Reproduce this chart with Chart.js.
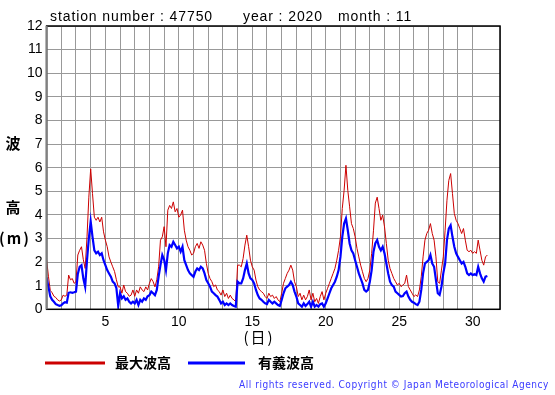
<!DOCTYPE html>
<html>
<head>
<meta charset="utf-8">
<script src="https://cdn.jsdelivr.net/npm/chart.js@4.4.1/dist/chart.umd.min.js"></script>
<style>
html, body { margin: 0; padding: 0; background: #fff; }
</style>
</head>
<body>
<canvas id="wave" width="555" height="395"></canvas>
<script>
// 3-hourly readings, Nov 1 00h .. Dec 1 00h (one row per day)
var maxWave = [
	2.1, 1.4, 0.8, 0.7, 0.55, 0.5, 0.4, 0.35,
	0.4, 0.6, 0.55, 0.6, 1.45, 1.25, 1.3, 1.1,
	1.17, 2.3, 2.5, 2.65, 2.1, 1.73, 3.07, 4.75,
	5.95, 4.9, 3.9, 3.77, 3.9, 3.7, 3.9, 3.28,
	2.93, 2.65, 2.22, 2.0, 1.8, 1.6, 1.25, 0.95,
	0.95, 0.68, 1.03, 0.75, 0.68, 0.55, 0.6, 0.82,
	0.55, 0.82, 0.68, 0.95, 0.82, 0.75, 0.95, 0.82,
	1.1, 1.3, 1.17, 0.95, 1.25, 1.8, 2.93, 3.07,
	3.5, 2.65, 4.2, 4.4, 4.27, 4.55, 4.13, 4.27,
	3.9, 4.0, 4.2, 3.35, 2.93, 2.65, 2.5, 2.3,
	2.37, 2.65, 2.79, 2.58, 2.86, 2.72, 2.5, 1.94,
	1.52, 1.3, 1.17, 0.96, 1.03, 0.82, 0.75, 0.6,
	0.82, 0.54, 0.68, 0.46, 0.6, 0.46, 0.4, 0.32,
	1.87, 1.87, 1.8, 2.15, 2.72, 3.14, 2.65, 2.08,
	1.8, 1.66, 1.24, 0.96, 0.82, 0.75, 0.68, 0.54,
	0.46, 0.68, 0.54, 0.6, 0.46, 0.54, 0.4, 0.32,
	0.68, 1.1, 1.31, 1.52, 1.66, 1.87, 1.66, 1.17,
	0.96, 0.54, 0.68, 0.4, 0.6, 0.4, 0.54, 0.82,
	0.4, 0.68, 0.32, 0.46, 0.25, 0.54, 0.75, 0.4,
	0.68, 0.89, 1.1, 1.31, 1.52, 1.73, 2.08, 2.5,
	3.07, 4.27, 5.04, 6.1, 5.04, 4.34, 3.63, 3.42,
	3.07, 2.58, 2.22, 1.87, 1.59, 1.31, 1.17, 1.31,
	1.66, 2.37, 3.35, 4.5, 4.75, 4.27, 3.77, 3.99,
	3.49, 2.79, 2.08, 1.73, 1.52, 1.31, 1.17, 1.03,
	1.1, 0.96, 1.03, 1.1, 1.45, 0.96, 0.82, 0.68,
	0.54, 0.61, 0.54, 0.82, 1.38, 2.22, 2.93, 3.21,
	3.35, 3.63, 3.21, 2.93, 2.22, 1.17, 1.1, 1.66,
	2.22, 3.35, 4.62, 5.46, 5.75, 4.9, 4.06, 3.77,
	3.63, 3.42, 3.21, 3.42, 2.93, 2.5, 2.44, 2.5,
	2.37, 2.44, 2.37, 2.93, 2.5, 2.08, 1.87, 2.22,
	2.3
];
var sigWave = [
	1.35, 0.95, 0.55, 0.4, 0.32, 0.22, 0.18, 0.15,
	0.17, 0.25, 0.3, 0.28, 0.7, 0.72, 0.7, 0.72,
	0.75, 1.5, 1.8, 1.87, 1.3, 0.95, 2.08, 3.0,
	3.73, 3.07, 2.5, 2.37, 2.44, 2.3, 2.37, 2.08,
	1.87, 1.66, 1.52, 1.38, 1.17, 1.1, 0.9, 0.15,
	0.68, 0.46, 0.55, 0.4, 0.46, 0.32, 0.25, 0.32,
	0.25, 0.4, 0.18, 0.4, 0.32, 0.46, 0.4, 0.55,
	0.6, 0.75, 0.68, 0.6, 0.82, 1.38, 1.87, 2.3,
	2.1, 1.66, 2.37, 2.72, 2.65, 2.86, 2.72, 2.58,
	2.65, 2.44, 2.65, 2.08, 1.87, 1.66, 1.52, 1.45,
	1.38, 1.6, 1.73, 1.66, 1.8, 1.73, 1.52, 1.24,
	1.1, 0.96, 0.75, 0.68, 0.6, 0.54, 0.4, 0.25,
	0.32, 0.18, 0.25, 0.18, 0.25, 0.18, 0.14, 0.11,
	1.17, 1.1, 1.1, 1.31, 1.66, 1.94, 1.52, 1.31,
	1.24, 1.1, 0.82, 0.6, 0.46, 0.4, 0.32, 0.25,
	0.22, 0.4, 0.32, 0.25, 0.32, 0.25, 0.18, 0.14,
	0.4, 0.68, 0.89, 0.96, 1.03, 1.17, 1.03, 0.75,
	0.54, 0.25, 0.18, 0.11, 0.25, 0.14, 0.22, 0.32,
	0.11, 0.32, 0.11, 0.18, 0.11, 0.22, 0.25, 0.11,
	0.25, 0.46, 0.68, 0.89, 1.03, 1.17, 1.38, 1.66,
	2.22, 3.07, 3.63, 3.85, 3.35, 2.79, 2.5, 2.37,
	2.08, 1.8, 1.52, 1.31, 1.1, 0.82, 0.75, 0.82,
	1.17, 1.66, 2.44, 2.8, 2.93, 2.65, 2.5, 2.65,
	2.37, 1.94, 1.52, 1.17, 1.03, 0.96, 0.75, 0.68,
	0.61, 0.54, 0.56, 0.68, 0.75, 0.54, 0.4, 0.32,
	0.28, 0.22, 0.18, 0.32, 0.82, 1.52, 1.94, 2.01,
	2.08, 2.3, 1.94, 1.8, 1.24, 0.68, 0.61, 0.96,
	1.52, 1.94, 2.93, 3.42, 3.56, 3.07, 2.65, 2.37,
	2.22, 2.08, 1.94, 2.01, 1.8, 1.52, 1.45, 1.52,
	1.45, 1.49, 1.45, 1.8, 1.52, 1.31, 1.17, 1.38,
	1.41
];
var dayLabels = [5, 10, 15, 20, 25, 30];
var seriesNames = ["最大波高", "有義波高"];
var titleParts = ["station number : 47750", "year : 2020", "month : 11"];
var stepsPerDay = 8;

function toPoints(values) {
	var pts = [];
	for (var i = 0; i < values.length; i++) {
		pts.push({ x: 1 + i / stepsPerDay, y: values[i] });
	}
	return pts;
}

var sans = "'Liberation Sans', Arial, sans-serif";
var cjk = "'Noto Sans CJK JP', sans-serif";

var decorations = {
	id: "decorations",
	afterDraw: function (chart) {
		var ctx = chart.ctx;
		var a = chart.chartArea;
		ctx.save();
		// frame
		ctx.strokeStyle = "#000";
		ctx.lineWidth = 1.5;
		ctx.strokeRect(a.left, a.top, a.right - a.left, a.bottom - a.top);
		ctx.strokeStyle = "#808080";
		ctx.lineWidth = 2;
		ctx.beginPath();
		ctx.moveTo(a.left, a.top);
		ctx.lineTo(a.left, a.bottom);
		ctx.stroke();

		// title
		ctx.fillStyle = "#000";
		ctx.font = "14px " + sans;
		ctx.letterSpacing = "0.9px";
		ctx.textBaseline = "alphabetic";
		ctx.textAlign = "left";
		ctx.fillText(titleParts[0], 50, 21);
		ctx.fillText(titleParts[1], 243, 21);
		ctx.fillText(titleParts[2], 338, 21);

		// y axis title
		ctx.letterSpacing = "0px";
		ctx.font = "bold 15px " + cjk;
		ctx.textBaseline = "middle";
		ctx.textAlign = "center";
		ctx.fillText("波", 13, 143);
		ctx.fillText("高", 13, 207);
		ctx.letterSpacing = "2px";
		ctx.fillText("(m)", 15, 238);

		// x axis title
		ctx.letterSpacing = "2px";
		ctx.font = "15px " + cjk;
		ctx.fillText("(日)", 259, 337);

		// legend
		ctx.letterSpacing = "0px";
		ctx.lineWidth = 3;
		ctx.strokeStyle = "#cc0000";
		ctx.beginPath();
		ctx.moveTo(45, 363);
		ctx.lineTo(105, 363);
		ctx.stroke();
		ctx.strokeStyle = "#0000ff";
		ctx.beginPath();
		ctx.moveTo(188, 363);
		ctx.lineTo(245, 363);
		ctx.stroke();
		ctx.font = "bold 14px " + cjk;
		ctx.textAlign = "left";
		ctx.fillText(seriesNames[0], 115, 363);
		ctx.fillText(seriesNames[1], 258, 363);

		// copyright
		ctx.font = "10px 'DejaVu Sans', sans-serif";
		ctx.letterSpacing = "0.6px";
		ctx.fillStyle = "#3a3aff";
		ctx.textAlign = "right";
		ctx.fillText("All rights reserved. Copyright © Japan Meteorological Agency", 549, 385, 310);
		ctx.restore();
	}
};

var chart = new Chart(document.getElementById("wave"), {
	type: "line",
	data: {
		datasets: [
			{
				label: seriesNames[1],
				data: toPoints(sigWave),
				borderColor: "#0000ff",
				borderWidth: 2.2,
				pointRadius: 0,
				tension: 0,
				fill: false
			},
			{
				label: seriesNames[0],
				data: toPoints(maxWave),
				borderColor: "#cc0000",
				borderWidth: 1,
				pointRadius: 0,
				tension: 0,
				fill: false
			}
		]
	},
	options: {
		responsive: false,
		animation: false,
		layout: { padding: { left: 0, top: 26, right: 55, bottom: 0 } },
		plugins: { legend: { display: false }, tooltip: { enabled: false } },
		scales: {
			x: {
				type: "linear",
				min: 1,
				max: 31.86,
				afterFit: function (scale) { scale.height = 85.7; },
				border: { display: false },
				grid: { color: "#999", lineWidth: 1, drawTicks: false },
				ticks: {
					stepSize: 1,
					autoSkip: false,
					maxRotation: 0,
					padding: 4,
					color: "#000",
					font: { family: sans, size: 14 },
					callback: function (v) { return dayLabels.indexOf(v) >= 0 ? String(v) : ""; }
				}
			},
			y: {
				min: 0,
				max: 12,
				afterFit: function (scale) { scale.width = 46.6; },
				border: { display: false },
				grid: { color: "#999", lineWidth: 1, drawTicks: false },
				ticks: {
					stepSize: 1,
					padding: 4,
					color: "#000",
					font: { family: sans, size: 14 }
				}
			}
		}
	},
	plugins: [decorations]
});
</script>
</body>
</html>
